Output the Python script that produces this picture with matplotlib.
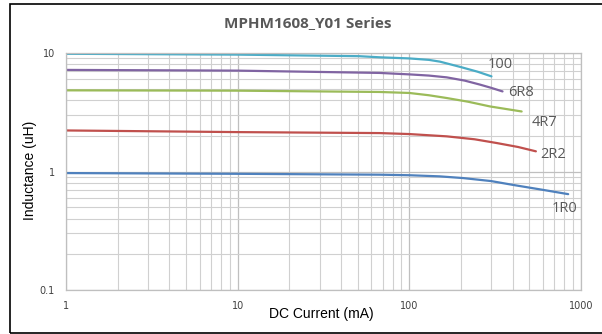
import matplotlib
matplotlib.use("Agg")
import matplotlib.pyplot as plt
from matplotlib.patches import Rectangle
from matplotlib.ticker import LogLocator, NullFormatter, FixedLocator, FixedFormatter

title = "MPHM1608_Y01 Series"
x_label = "DC Current (mA)"
y_label = "Inductance (uH)"

series_names = ["100", "6R8", "4R7", "2R2", "1R0"]

cur_100 = [1, 10, 51, 67, 100, 130, 151, 200, 250, 301]
ind_100 = [9.85, 9.69, 9.4, 9.2, 9.0, 8.75, 8.45, 7.6, 6.95, 6.35]

cur_6r8 = [1, 10, 67, 100, 130, 165, 210, 258, 300, 349]
ind_6r8 = [7.2, 7.1, 6.79, 6.6, 6.45, 6.23, 5.85, 5.41, 5.08, 4.74]

cur_4r7 = [1, 10, 67, 100, 130, 165, 220, 295, 370, 451]
ind_4r7 = [4.84, 4.81, 4.69, 4.6, 4.4, 4.17, 3.88, 3.54, 3.36, 3.21]

cur_2r2 = [1, 10, 67, 100, 165, 240, 322, 430, 546]
ind_2r2 = [2.22, 2.15, 2.11, 2.07, 1.98, 1.87, 1.74, 1.61, 1.48]

cur_1r0 = [1, 10, 67, 100, 150, 206, 300, 403, 600, 842]
ind_1r0 = [0.97, 0.956, 0.94, 0.93, 0.91, 0.88, 0.83, 0.77, 0.70, 0.644]

colors = ["#4BACC6", "#8064A2", "#9BBB59", "#C0504D", "#4F81BD"]
label_pos = [(500, 65), (521, 93), (545, 122), (553, 155), (565, 208)]  # pixels

x_ticks = [1, 10, 100, 1000]
x_tick_labels = ["1", "10", "100", "1000"]
y_ticks = [0.1, 1, 10]
y_tick_labels = ["0.1", "1", "10"]

W, H = 602, 334
fig = plt.figure(figsize=(W / 100, H / 100), dpi=100)
ax = fig.add_axes([66 / W, (H - 290) / H, (581 - 66) / W, (290 - 53) / H])
ax.set_xscale("log")
ax.set_yscale("log")
ax.set_xlim(1, 1000)
ax.set_ylim(0.1, 10)

ax.xaxis.set_minor_locator(LogLocator(base=10, subs=range(2, 10)))
ax.yaxis.set_minor_locator(LogLocator(base=10, subs=range(2, 10)))
ax.xaxis.set_minor_formatter(NullFormatter())
ax.yaxis.set_minor_formatter(NullFormatter())
ax.xaxis.set_major_locator(FixedLocator(x_ticks))
ax.xaxis.set_major_formatter(FixedFormatter(x_tick_labels))
ax.yaxis.set_major_locator(FixedLocator(y_ticks))
ax.yaxis.set_major_formatter(FixedFormatter(y_tick_labels))

ax.grid(which="major", color="#BFBFBF", lw=0.9)
ax.grid(which="minor", color="#D0D0D0", lw=0.8)
ax.set_axisbelow(True)
ax.tick_params(which="both", length=0)
ax.tick_params(axis="x", pad=8, labelsize=7, labelcolor="#404040")
ax.tick_params(axis="y", pad=8, labelsize=7, labelcolor="#404040")
for s in ax.spines.values():
    s.set_color("#BFBFBF")
    s.set_linewidth(0.9)

data = [(cur_100, ind_100), (cur_6r8, ind_6r8), (cur_4r7, ind_4r7),
        (cur_2r2, ind_2r2), (cur_1r0, ind_1r0)]
for (xs, ys), c in zip(data, colors):
    ax.plot(xs, ys, color=c, lw=1.6, solid_capstyle="round",
            solid_joinstyle="round")

for name, (px, py) in zip(series_names, label_pos):
    fig.text(px / W, 1 - py / H, name, ha="center", va="center",
             fontsize=10.5, color="#595959", family="Open Sans")

fig.text(308 / W, 1 - 23 / H, title, ha="center", va="center",
         fontsize=11, fontweight="bold", color="#595959", family="Open Sans")
fig.text(321 / W, 1 - 314 / H, x_label, ha="center", va="center",
         fontsize=10, color="#000000", family="Liberation Sans")
fig.text(30 / W, 1 - 170 / H, y_label, ha="center", va="center", rotation=90,
         fontsize=10, color="#000000", family="Liberation Sans")

fig.add_artist(Rectangle((10 / W, 1 / H), (W + 10) / W, (H - 5) / H,
                         transform=fig.transFigure, fill=False,
                         edgecolor="#000000", lw=1.2))

fig.savefig("out.png", dpi=100)
